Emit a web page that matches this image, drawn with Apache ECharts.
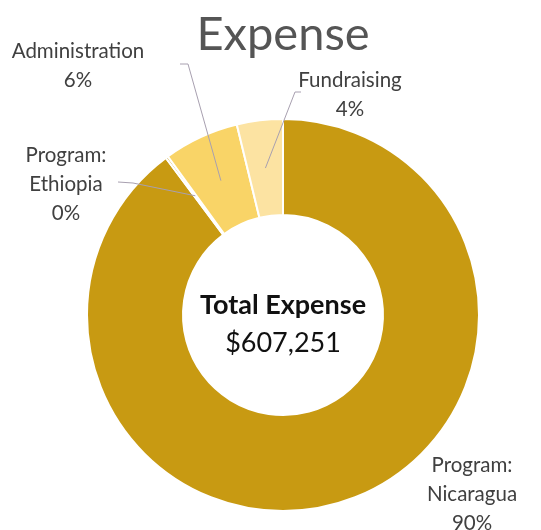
<!DOCTYPE html>
<html>
<head>
<meta charset="utf-8">
<script src="https://cdn.jsdelivr.net/npm/echarts@6/dist/echarts.min.js"></script>
<style>
html,body{margin:0;padding:0;background:#ffffff;}
#chart{width:541px;height:530px;}
</style>
</head>
<body>
<div id="chart"></div>
<script>
// ---- data ----
const categories = ['Program:\nNicaragua', 'Program:\nEthiopia', 'Administration', 'Fundraising'];
const expenseValues = [545351, 1200, 37700, 23000];
const sliceColors = ['#C89A12', '#C89A12', '#F9D467', '#FCE3A2'];
const totalLabel = '$607,251';

// ---- layout config ----
const CENTER = [283, 315];
const R_IN = 100, R_OUT = 196;
const labelAnchors = [[472, 451], [66, 141], [78, 37], [350, 66]];
// leader-line elbow / end offsets relative to label anchors
const lineOffsets = [null, [[67, 42], [52, 41]], [[110, 27], [102, 27]], [[-55, 26], [-49, 26]]];

const total = expenseValues.reduce((a, b) => a + b, 0);
const FONT = 'Lato, "Open Sans", sans-serif';

const baseSeries = {
  type: 'pie',
  center: CENTER,
  radius: [R_IN, R_OUT],
  startAngle: 90,
  clockwise: true,
  avoidLabelOverlap: false,
  emphasis: {disabled: true},
  silent: true
};

const chart = echarts.init(document.getElementById('chart'), null, {renderer: 'canvas'});
chart.setOption({
  backgroundColor: '#ffffff',
  animation: false,
  title: [
    {text: 'Expense', left: CENTER[0] - 5, top: 6, textAlign: 'center',
     textStyle: {fontFamily: FONT, fontSize: 47, fontWeight: 'normal', color: '#555555'}},
    {text: 'Total Expense', left: CENTER[0] - 5, top: 287, textAlign: 'center',
     textStyle: {fontFamily: FONT, fontSize: 27, fontWeight: 'bold', color: '#111111'}},
    {text: totalLabel, left: CENTER[0] - 5, top: 325, textAlign: 'center',
     textStyle: {fontFamily: FONT, fontSize: 27, fontWeight: 'normal', color: '#111111'}}
  ],
  series: [
    Object.assign({}, baseSeries, {
      z: 2,
      itemStyle: {borderColor: '#ffffff', borderWidth: 2},
      label: {show: false},
      labelLine: {show: false},
      data: categories.map((c, i) => ({name: c, value: expenseValues[i], itemStyle: {color: sliceColors[i]}}))
    }),
    Object.assign({}, baseSeries, {
      z: 5,
      itemStyle: {color: 'rgba(0,0,0,0)', borderWidth: 0},
      label: {
        show: true,
        fontFamily: FONT,
        fontSize: 20.5,
        color: '#404040',
        lineHeight: 29,
        align: 'center',
        formatter: p => p.name + '\n' + Math.round(p.value / total * 100) + '%'
      },
      labelLine: {show: true, showAbove: true, lineStyle: {color: '#A8A0B0', width: 1}, length: 10, length2: 10},
      labelLayout: function (params) {
        const i = params.dataIndex;
        const a = labelAnchors[i];
        const out = {x: a[0], y: a[1], align: 'center', verticalAlign: 'top'};
        const off = lineOffsets[i];
        if (off && params.labelLinePoints) {
          const p0 = params.labelLinePoints[0];
          const k = ((R_IN + R_OUT) / 2) / R_OUT;
          const start = [CENTER[0] + (p0[0] - CENTER[0]) * k, CENTER[1] + (p0[1] - CENTER[1]) * k];
          out.labelLinePoints = [start, [a[0] + off[0][0], a[1] + off[0][1]], [a[0] + off[1][0], a[1] + off[1][1]]];
        }
        return out;
      },
      data: categories.map((c, i) => ({name: c, value: expenseValues[i], labelLine: {show: i !== 0}}))
    })
  ]
});
</script>
</body>
</html>
